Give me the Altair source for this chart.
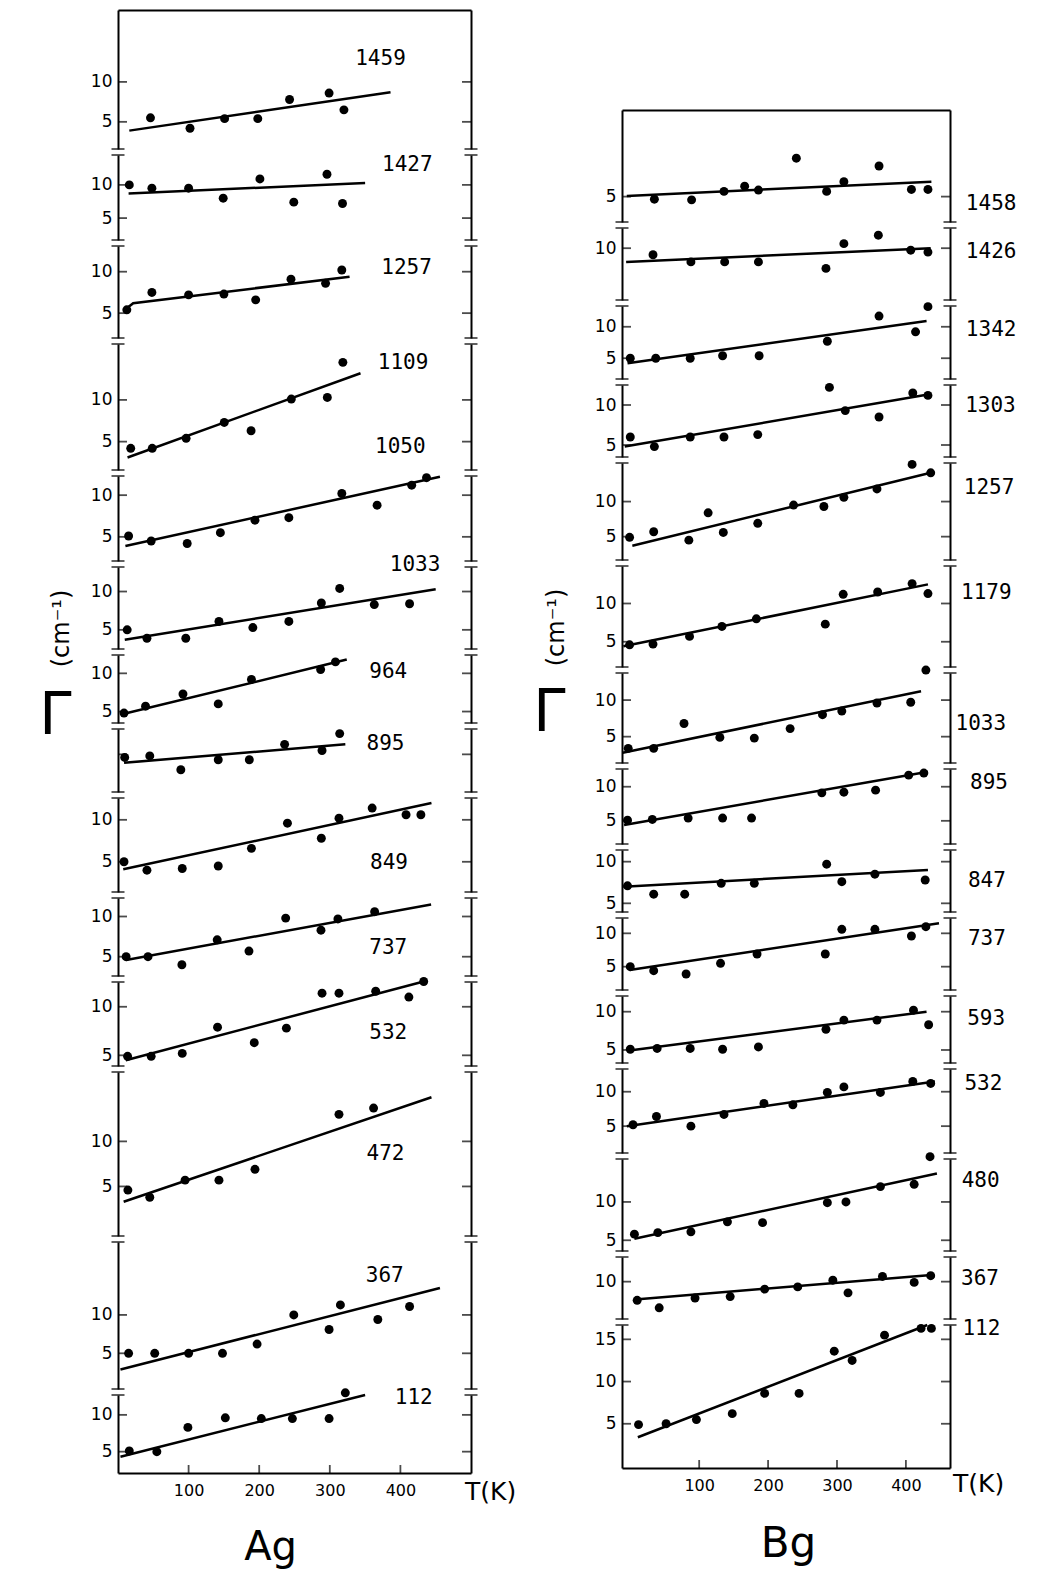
import altair as alt
import pandas as pd

# ---------------- Ag panel data (T in K, Gamma in cm-1) ----------------
ag_modes = ["1459", "1427", "1257", "1109", "1050", "1033", "964", "895",
            "849", "737", "532", "472", "367", "112"]
ag_T = [
    [46, 102, 151, 198, 243, 299, 320],
    [16, 48, 100, 149, 201, 249, 296, 318],
    [12.5, 48, 100, 150, 195, 245, 294, 317],
    [18, 48.5, 96.5, 150.5, 188.5, 245.5, 296.5, 318.5],
    [15, 47, 98, 145, 194, 242, 317, 367, 416, 437],
    [13, 41, 96, 143, 191, 242, 288, 314, 363, 413],
    [8.5, 39, 92, 142, 189, 287, 308],
    [9.5, 45, 89, 142, 186, 236, 289, 314],
    [8.5, 41, 91, 142, 189, 240, 288, 313, 360, 408, 429],
    [11.5, 42.5, 90.5, 140.5, 185.5, 237.5, 287.5, 311.5, 363.5],
    [13.6, 47, 91, 141, 193, 238.5, 289, 313, 365, 412, 433],
    [14, 45, 95, 143, 194, 313, 362],
    [15, 52, 100, 148, 197, 249, 299, 315, 368, 413],
    [16, 55, 99, 152, 203, 247, 299, 322],
]
ag_G = [
    [5.5, 4.2, 5.4, 5.4, 7.8, 8.6, 6.5],
    [10.0, 9.5, 9.5, 8.0, 10.9, 7.4, 11.6, 7.2],
    [5.4, 7.5, 7.2, 7.3, 6.6, 9.1, 8.6, 10.2],
    [4.2, 4.2, 5.4, 7.3, 6.3, 10.1, 10.3, 14.5],
    [5.1, 4.5, 4.2, 5.5, 7.0, 7.3, 10.2, 8.8, 11.2, 12.1],
    [5.0, 3.9, 3.9, 6.1, 5.3, 6.1, 8.5, 10.4, 8.3, 8.4],
    [4.8, 5.7, 7.3, 6.0, 9.2, 10.5, 11.5],
    [7.1, 7.3, 5.5, 6.8, 6.8, 8.8, 8.0, 10.2],
    [5.0, 4.0, 4.2, 4.5, 6.6, 9.6, 7.8, 10.2, 11.4, 10.6, 10.6],
    [5.0, 5.0, 4.0, 7.1, 5.7, 9.8, 8.3, 9.7, 10.6],
    [4.9, 4.9, 5.2, 7.9, 6.3, 7.8, 11.4, 11.4, 11.6, 11.0, 12.6],
    [4.6, 3.8, 5.7, 5.7, 6.9, 13.0, 13.7],
    [5.0, 5.0, 5.0, 5.0, 6.2, 10.0, 8.1, 11.3, 9.4, 11.1],
    [5.1, 5.0, 8.3, 9.6, 9.5, 9.5, 9.5, 13.0],
]
ag_fit_T = [[16, 386], [15, 350], [9.8, 21.5, 328], [13.5, 343.5], [10.5, 456],
            [9.6, 450], [8.6, 324], [8.6, 322], [7.4, 444], [11.5, 443.5],
            [11, 433], [8, 444], [3.5, 456], [3.5, 350]]
ag_fit_G = [[3.9, 8.7], [8.7, 10.3], [5.4, 6.2, 9.4], [3.1, 13.2], [3.9, 12.2],
            [3.7, 10.3], [4.7, 11.8], [6.4, 8.8], [4.1, 12.0], [4.6, 11.5],
            [4.5, 12.6], [3.3, 14.9], [2.9, 13.5], [4.3, 12.7]]
ag_label_T = [336, 374, 373, 368, 364, 385, 356, 352, 357, 356, 356, 352, 351, 392]
ag_label_G = [12.9, 13.0, 10.45, 14.4, 15.8, 13.5, 10.2, 8.9, 4.8, 6.05, 7.25, 8.6, 15.1, 12.3]
ag_ticks = [[5, 10]] * 7 + [[7.5]] + [[5, 10]] * 6
ag_tick_labels = [True] * 7 + [False] + [True] * 6

# ---------------- Bg panel data ----------------
bg_modes = ["1458", "1426", "1342", "1303", "1257", "1179", "1033", "895",
            "847", "737", "593", "532", "480", "367", "112"]
bg_T = [
    [35, 89, 136, 166, 186, 241, 285, 310, 361, 408, 432],
    [33, 88, 137, 186, 284, 310, 360, 407, 432],
    [0, 37, 87, 134, 187, 286, 361, 414, 432],
    [0, 35, 87, 136, 185, 289, 312, 361, 410, 432],
    [-1, 34, 85, 113, 135, 185, 237, 281, 310, 358, 409, 436],
    [-1, 33, 86, 133, 183, 283, 309, 359, 409, 432],
    [-3, 34, 78, 130, 180, 232, 279, 307, 358, 407, 429],
    [-4, 32, 84, 134, 176, 278, 310, 356, 404, 426],
    [-4, 34, 79, 132, 180, 285, 307, 355, 428],
    [0, 34, 81, 131, 184, 283, 307, 355, 408, 429],
    [0, 39, 87, 134, 186, 284, 310, 358, 411, 433],
    [4, 38, 88, 136, 194, 236, 286, 310, 363, 410, 436],
    [6, 40, 88, 141, 192, 286, 313, 363, 412, 435],
    [10, 42, 94, 145, 195, 243, 294, 316, 366, 412, 436],
    [12, 52, 96, 148, 195, 245, 296, 322, 369, 422, 437],
]
bg_G = [
    [4.6, 4.5, 5.8, 6.6, 6.0, 10.9, 5.8, 7.3, 9.7, 6.1, 6.1],
    [9.0, 7.9, 7.9, 7.9, 6.9, 10.7, 12.0, 9.7, 9.4],
    [5.0, 5.0, 5.0, 5.4, 5.4, 7.7, 11.7, 9.2, 13.2],
    [6.0, 4.8, 6.0, 6.0, 6.3, 12.2, 9.3, 8.5, 11.5, 11.2],
    [4.9, 5.7, 4.5, 8.4, 5.6, 6.9, 9.5, 9.3, 10.6, 11.8, 15.3, 14.1],
    [4.6, 4.7, 5.7, 7.0, 8.0, 7.3, 11.2, 11.5, 12.6, 11.3],
    [3.4, 3.4, 6.8, 4.9, 4.8, 6.1, 8.0, 8.5, 9.6, 9.7, 14.1],
    [5.1, 5.2, 5.4, 5.4, 5.4, 9.1, 9.2, 9.5, 11.7, 12.0],
    [7.1, 6.1, 6.1, 7.4, 7.4, 9.7, 7.6, 8.5, 7.8],
    [5.0, 4.4, 3.9, 5.5, 6.9, 6.9, 10.6, 10.6, 9.6, 11.0],
    [5.1, 5.2, 5.2, 5.1, 5.4, 7.7, 8.9, 8.9, 10.2, 8.3],
    [5.2, 6.4, 5.0, 6.7, 8.3, 8.1, 9.9, 10.7, 9.9, 11.5, 11.2],
    [5.8, 6.0, 6.1, 7.4, 7.3, 9.9, 10.0, 12.0, 12.3, 15.9],
    [7.5, 6.5, 7.8, 8.0, 9.0, 9.3, 10.2, 8.5, 10.7, 9.9, 10.8],
    [4.9, 5.0, 5.5, 6.2, 8.6, 8.6, 13.6, 12.5, 15.5, 16.3, 16.3],
]
bg_fit_T = [[-5, 437], [-6, 436], [-4, 430], [-8, 432], [3, 436], [-10, 432],
            [-11, 422], [-9, 432], [-10, 432], [-1, 448], [-4, 430], [-5, 442],
            [6, 445], [7, 437], [11, 431]]
bg_fit_G = [[5.1, 7.3], [7.9, 10.0], [4.2, 10.9], [4.8, 11.3], [3.7, 14.1],
            [4.4, 12.5], [2.8, 11.2], [4.4, 12.2], [7.0, 9.0], [4.5, 11.5],
            [4.9, 10.0], [5.0, 11.5], [5.2, 13.7], [7.6, 10.9], [3.4, 16.7]]
bg_label_T = [487, 487, 487, 486, 484, 480, 472, 493, 490, 490, 489, 485, 481, 480, 482]
bg_label_G = [3.9, 9.35, 9.5, 9.9, 12.0, 11.4, 6.7, 10.6, 7.7, 9.15, 9.05, 11.1, 12.7, 10.35, 16.25]
bg_ticks = [[5], [10]] + [[5, 10]] * 11 + [[10], [5, 10, 15]]
bg_tick_labels = [True] * 15

x_tick_values = [100, 200, 300, 400]

# ---------------- layout (strip sizes and axis extents) ----------------
ag_xdom, ag_w = [0, 500], 353
bg_xdom, bg_w = [-12, 464], 328
ag_ydom = [[1.6, 19.0], [1.7, 14.5], [2.0, 13.1], [1.6, 16.7], [2.1, 12.3],
           [2.5, 13.2], [3.5, 12.4], [2.6, 10.8], [1.4, 12.6], [2.6, 12.3],
           [3.9, 12.55], [-0.5, 17.7], [0.35, 19.5], [2.1, 12.7]]
ag_h = [139, 85, 92, 126, 85, 82, 68, 63, 94, 78, 84, 164, 147, 78]
bg_ydom = [[1.1, 18.3], [2.05, 13.1], [1.7, 13.3], [3.5, 12.5], [1.67, 15.5],
           [1.7, 14.9], [1.4, 13.7], [1.6, 12.6], [3.96, 11.4], [1.5, 12.3],
           [3.3, 12.05], [1.1, 13.3], [3.6, 15.6], [5.0, 13.3], [-0.24, 16.7]]
bg_h = [112, 72, 73, 72, 97, 101, 90, 75, 62, 72, 67, 84, 92, 62, 143]

FONT = "DejaVu Sans"
MONO = "DejaVu Sans Mono"
GAP = 6
GAMMA = "\u0393"
UNIT = "(cm\u207b\u00b9)"


def strip(i, n, T, G, fT, fG, mode, lT, lG, xdom, w, ydom, ticks, show_lab, h,
          panel, ytitle):
    xs = alt.Scale(domain=xdom, nice=False, zero=False)
    ys = alt.Scale(domain=ydom, nice=False, zero=False)
    first, last = i == 0, i == n - 1
    if first:
        xaxis = alt.Axis(orient="top", labels=False, ticks=False, domain=True,
                         title=None, grid=False)
    elif last:
        xaxis = alt.Axis(orient="bottom", values=x_tick_values, ticks=False,
                         tickSize=0, labelPadding=9, labelFontSize=16,
                         domain=True, grid=False, title=panel["title"],
                         titleFontSize=panel["tsize"], titleX=panel["tx"],
                         titleY=panel["ty"], titleAlign="center",
                         titleBaseline="alphabetic")
    else:
        xaxis = None
    ykw = dict(orient="left", values=ticks, labels=show_lab, ticks=False,
               tickSize=0, labelPadding=6, grid=False, domain=True)
    if ytitle:
        ykw.update(title=ytitle["text"], titleFontSize=ytitle["size"],
                   titleX=ytitle["x"], titleY=ytitle["y"],
                   titleAngle=ytitle["angle"], titleAlign="center",
                   titleBaseline="middle")
    else:
        ykw.update(title=None)

    pts = alt.Chart(pd.DataFrame({"T": T, "G": G})).mark_circle(
        size=80, color="black", opacity=1).encode(
        x=alt.X("T:Q", scale=xs, axis=xaxis),
        y=alt.Y("G:Q", scale=ys, axis=alt.Axis(**ykw)))
    fit = alt.Chart(pd.DataFrame({"T": fT, "G": fG})).mark_line(
        color="black", strokeWidth=2.5).encode(
        x=alt.X("T:Q", scale=xs, axis=None),
        y=alt.Y("G:Q", scale=ys, axis=alt.Axis(
            orient="right", values=ticks, labels=False, ticks=False,
            title=None, grid=False, domain=True)))
    lab = alt.Chart(pd.DataFrame({"T": [lT], "G": [lG], "m": [mode]})).mark_text(
        align="left", baseline="middle", font=MONO, fontSize=21,
        color="black").encode(
        x=alt.X("T:Q", scale=xs, axis=None),
        y=alt.Y("G:Q", scale=ys, axis=None), text="m:N")
    layers = [fit, pts, lab]

    # inward-pointing ticks on the left and right frame lines
    for edge, off in ((xdom[0], 4.5), (xdom[1], -4.5)):
        layers.append(alt.Chart(pd.DataFrame(
            {"T": [edge] * len(ticks), "G": ticks})).mark_tick(
            orient="horizontal", size=9, thickness=1.8, color="black",
            xOffset=off).encode(
            x=alt.X("T:Q", scale=xs, axis=None),
            y=alt.Y("G:Q", scale=ys, axis=None)))

    capT, capG = [], []
    if not first:
        capT += [xdom[0], xdom[1]]
        capG += [ydom[1], ydom[1]]
    if not last:
        capT += [xdom[0], xdom[1]]
        capG += [ydom[0], ydom[0]]
    if capT:
        layers.append(alt.Chart(pd.DataFrame({"T": capT, "G": capG})).mark_tick(
            orient="horizontal", size=13, thickness=1.8, color="black").encode(
            x=alt.X("T:Q", scale=xs, axis=None),
            y=alt.Y("G:Q", scale=ys, axis=None)))
    if last:
        layers.append(alt.Chart(pd.DataFrame(
            {"T": x_tick_values, "G": [ydom[0]] * len(x_tick_values)})).mark_tick(
            orient="vertical", size=8, thickness=1.8, color="black",
            yOffset=-4).encode(
            x=alt.X("T:Q", scale=xs, axis=None),
            y=alt.Y("G:Q", scale=ys, axis=None)))
        layers.append(alt.Chart(pd.DataFrame(
            {"T": [xdom[1]], "G": [ydom[0]], "t": ["T(K)"]})).mark_text(
            align="left", baseline="middle", dx=panel["kdx"], dy=panel["kdy"],
            font=FONT, fontSize=panel["ksize"], color="black").encode(
            x=alt.X("T:Q", scale=xs, axis=None),
            y=alt.Y("G:Q", scale=ys, axis=None), text="t:N"))
    return alt.layer(*layers).resolve_axis(
        x="independent", y="independent").properties(width=w, height=h)


ag_panel = dict(title="Ag", tsize=40, tx=152, ty=86, kdx=-6, kdy=19, ksize=25)
bg_panel = dict(title="Bg", tsize=42, tx=166, ty=88, kdx=3, kdy=16, ksize=25)
ag_titles = {6: dict(text=GAMMA, size=58, x=-63, y=61, angle=0),
             5: dict(text=UNIT, size=24, x=-57, y=61, angle=270)}
bg_titles = {6: dict(text=GAMMA, size=58, x=-73, y=40, angle=0),
             5: dict(text=UNIT, size=24, x=-66, y=61, angle=270)}

left_strips = [
    strip(i, len(ag_modes), ag_T[i], ag_G[i], ag_fit_T[i], ag_fit_G[i],
          ag_modes[i], ag_label_T[i], ag_label_G[i], ag_xdom, ag_w, ag_ydom[i],
          ag_ticks[i], ag_tick_labels[i], ag_h[i], ag_panel, ag_titles.get(i))
    for i in range(len(ag_modes))
]
right_strips = [
    strip(i, len(bg_modes), bg_T[i], bg_G[i], bg_fit_T[i], bg_fit_G[i],
          bg_modes[i], bg_label_T[i], bg_label_G[i], bg_xdom, bg_w, bg_ydom[i],
          bg_ticks[i], bg_tick_labels[i], bg_h[i], bg_panel, bg_titles.get(i))
    for i in range(len(bg_modes))
]

spacer = alt.Chart(pd.DataFrame({"v": [0]})).mark_text(text="").encode(
    x=alt.X("v:Q", axis=None), y=alt.Y("v:Q", axis=None)).properties(
    width=bg_w, height=100 - GAP)

left = alt.vconcat(*left_strips, spacing=GAP, bounds="flush")
right = alt.vconcat(spacer, *right_strips, spacing=GAP, bounds="flush")

chart = alt.hconcat(left, right, spacing=15).configure_view(
    stroke=None).configure_axis(
    domainColor="black", domainWidth=2, tickColor="black", tickWidth=1.5,
    labelColor="black", labelFont=FONT, labelFontSize=17, titleColor="black",
    titleFont=FONT, titleFontWeight="normal").properties(
    padding={"left": 38, "top": 10, "right": 5, "bottom": 5},
    background="white")

chart.save("out.html", embed_options={"renderer": "svg", "actions": False})
